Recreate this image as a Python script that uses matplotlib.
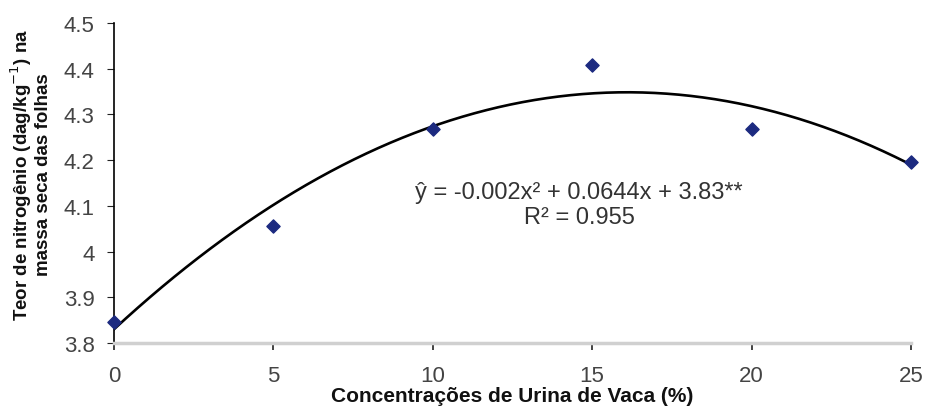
import numpy as np
import matplotlib.pyplot as plt

plt.rcParams['font.family'] = ['Liberation Sans', 'DejaVu Sans']

# Dados
concentracao = [0, 5, 10, 15, 20, 25]
teor_n = [3.846, 4.055, 4.268, 4.408, 4.268, 4.195]
coef = [-0.002, 0.0644, 3.83]  # ajuste quadrático
yticks = [3.8, 3.9, 4.0, 4.1, 4.2, 4.3, 4.4, 4.5]
ytick_labels = ['3.8', '3.9', '4', '4.1', '4.2', '4.3', '4.4', '4.5']
xticks = [0, 5, 10, 15, 20, 25]

fig = plt.figure(figsize=(9.25, 4.1), dpi=100)
ax = fig.add_axes([0.1232, 0.161, 0.8616, 0.7805])

xs = np.linspace(0, 25, 200)
ax.plot(xs, np.polyval(coef, xs), color='black', lw=1.9)
ax.scatter(concentracao, teor_n, marker='D', s=45, color='#1c2a80', zorder=3, clip_on=False)

ax.set_xlim(0, 25)
ax.set_ylim(3.8, 4.5)
ax.set_xticks(xticks)
ax.set_yticks(yticks)
ax.set_yticklabels(ytick_labels)
ax.tick_params(labelsize=16, labelcolor='#444444', color='#222222')
ax.tick_params(axis='y', length=5, pad=9)
ax.tick_params(axis='x', length=5, pad=11, width=1.2)

ax.spines['top'].set_visible(False)
ax.spines['right'].set_visible(False)
ax.spines['bottom'].set_color('#d0d0d0')
ax.spines['bottom'].set_linewidth(2.5)
ax.spines['left'].set_linewidth(1.2)

ax.text(14.59, 4.130, 'ŷ = -0.002x² + 0.0644x + 3.83**', ha='center', va='center',
        fontsize=17, color='#333333')
ax.text(14.59, 4.075, 'R² = 0.955', ha='center', va='center', fontsize=17, color='#333333')

ax.set_xlabel('Concentrações de Urina de Vaca (%)', fontsize=15, fontweight='bold',
              labelpad=0, color='#111111')
fig.text(0.033, 0.573, 'Teor de nitrogênio (dag/kg$^{-1}$) na\nmassa seca das folhas',
         rotation=90, ha='center', va='center', fontsize=13.5, fontweight='bold',
         linespacing=1.1, color='#111111')

fig.savefig('out.png', dpi=100)
